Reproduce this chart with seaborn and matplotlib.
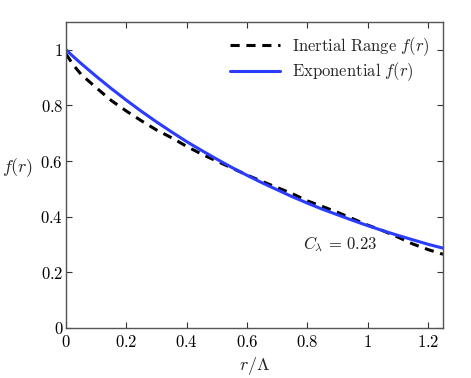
import numpy as np
import pandas as pd
import seaborn as sns
import matplotlib
matplotlib.use('Agg')
from matplotlib import pyplot as plt
from matplotlib.ticker import FuncFormatter

# values
r = [0.0, 0.025, 0.05, 0.1, 0.15, 0.2, 0.25, 0.3, 0.35, 0.4, 0.45, 0.5, 0.55,
     0.6, 0.65, 0.7, 0.75, 0.8, 0.85, 0.9, 0.95, 1.0, 1.05, 1.1, 1.15, 1.2, 1.25]
f_inertial = [0.985, 0.945, 0.912, 0.864, 0.818, 0.780, 0.745, 0.712, 0.684,
              0.653, 0.625, 0.600, 0.575, 0.550, 0.527, 0.505, 0.483, 0.457,
              0.437, 0.416, 0.393, 0.370, 0.350, 0.327, 0.302, 0.282, 0.265]
f_exp = [1.0, 0.975, 0.951, 0.905, 0.861, 0.819, 0.779, 0.741, 0.705, 0.670,
         0.638, 0.607, 0.577, 0.549, 0.522, 0.497, 0.472, 0.449, 0.427, 0.407,
         0.387, 0.368, 0.350, 0.333, 0.317, 0.301, 0.287]
x_ticks = [0, 0.2, 0.4, 0.6, 0.8, 1.0, 1.2]
y_ticks = [0, 0.2, 0.4, 0.6, 0.8, 1.0]
c_lambda = 0.23

sns.set_theme(style='ticks')
plt.rcParams['mathtext.fontset'] = 'cm'
plt.rcParams['font.family'] = ['DejaVu Serif']

df = pd.DataFrame({'r': r, 'inertial': f_inertial, 'exp': f_exp})

fig = plt.figure(figsize=(4.71, 3.78), dpi=100)
ax = fig.add_axes([0.140, 0.1323, 0.8006, 0.8095])

sns.lineplot(data=df, x='r', y='inertial', ax=ax, color='black', lw=2.2,
             label=r'$\mathrm{Inertial\ Range}\ f(r)$')
ax.lines[-1].set_dashes([3.0, 2.2])
sns.lineplot(data=df, x='r', y='exp', ax=ax, color='#2a3cff', lw=2.2,
             label=r'$\mathrm{Exponential}\ f(r)$')

ax.set_xlim(0, 1.25)
ax.set_ylim(0, 1.1)
ax.set_xticks(x_ticks)
ax.set_yticks(y_ticks)
fmt = FuncFormatter(lambda v, _: f'${v:g}$')
ax.xaxis.set_major_formatter(fmt)
ax.yaxis.set_major_formatter(fmt)
ax.tick_params(direction='in', top=True, right=True, length=4, width=0.8,
               labelsize=12, colors='#333333', labelcolor='black', pad=2)
ax.tick_params(axis='x', pad=4)
for s in ax.spines.values():
    s.set_color('#555555')
    s.set_linewidth(1.0)

ax.set_xlabel(r'$r/\Lambda$', fontsize=13, labelpad=3)
ax.set_ylabel(r'$f(r)$', fontsize=13, rotation=0, ha='center', va='center')
ax.yaxis.set_label_coords(-0.127, 0.523)

ax.text(0.908, 0.30, rf'$C_\lambda\,=\,{c_lambda}$', fontsize=12,
        ha='center', va='center', color='#222222')

leg = ax.legend(loc='upper right', frameon=False, fontsize=12,
                handlelength=3.0, handletextpad=0.7, labelspacing=0.15,
                borderaxespad=0.4)

fig.savefig('out.png', dpi=100)
